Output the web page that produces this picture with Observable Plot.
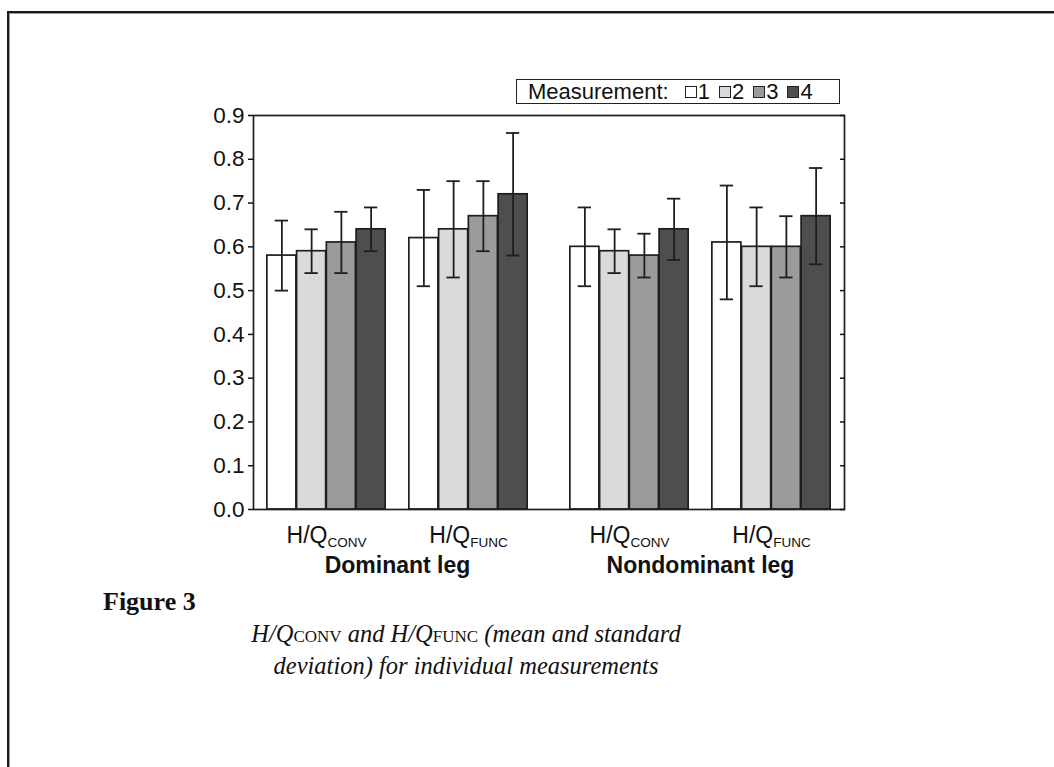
<!DOCTYPE html>
<html>
<head>
<meta charset="utf-8">
<script src="https://cdn.jsdelivr.net/npm/d3@7"></script>
<script src="https://cdn.jsdelivr.net/npm/@observablehq/plot@0.6"></script>
<style>
  html, body { margin: 0; padding: 0; background: #fff; }
  body { width: 1054px; height: 767px; overflow: hidden; position: relative; font-family: "Liberation Sans", Arial, sans-serif; color: #111; }
  #page-frame { position: absolute; left: 7px; top: 11px; width: 1200px; height: 900px; border-top: 2px solid #1a1a1a; border-left: 2px solid #1a1a1a; box-shadow: inset 1px 1px 0 #9a9a9a; }
  #chart { position: absolute; left: 0; top: 0; }
  #legend { position: absolute; left: 516px; top: 79px; width: 324px; height: 25px; box-sizing: border-box; border: 1.5px solid #222; background: #fff;
            font-size: 22px; line-height: 22px; display: flex; align-items: center; padding-left: 11px; white-space: nowrap; }
  #legend .lab { margin-right: 16px; }
  #legend .item { display: inline-flex; align-items: center; margin-right: 9px; }
  #legend .sw { display: inline-block; width: 10px; height: 10px; border: 1px solid #222; margin-right: 1px; }
  #fig { position: absolute; left: 103px; top: 587px; font-family: "Liberation Serif", serif; font-weight: bold; font-size: 26px; }
  #caption { position: absolute; left: 166px; width: 600px; top: 620px; text-align: center; font-family: "Liberation Serif", serif; font-style: italic; font-size: 24.5px; line-height: 28.5px; }
  #caption .sc { font-size: 17px; font-style: normal; }
</style>
</head>
<body>
<div id="page-frame"></div>
<div id="chart"></div>
<div id="legend"></div>
<div id="fig">Figure 3</div>
<div id="caption"><span>H/Q<span class="sc">CONV</span> and H/Q<span class="sc">FUNC</span> (mean and standard</span><br><span>deviation) for individual measurements</span></div>
<script>
// ---- data ----
const legs = ["Dominant leg", "Nondominant leg"];
const types = ["CONV", "FUNC"];
const measurements = ["1", "2", "3", "4"];
const fills = ["#ffffff", "#d9dad9", "#9a9b9a", "#4e4e4e"];
const yTicks = [0, 0.1, 0.2, 0.3, 0.4, 0.5, 0.6, 0.7, 0.8, 0.9];

const domConvMean = [0.58, 0.59, 0.61, 0.64];
const domConvSD   = [0.08, 0.05, 0.07, 0.05];
const domFuncMean = [0.62, 0.64, 0.67, 0.72];
const domFuncSD   = [0.11, 0.11, 0.08, 0.14];
const nonConvMean = [0.60, 0.59, 0.58, 0.64];
const nonConvSD   = [0.09, 0.05, 0.05, 0.07];
const nonFuncMean = [0.61, 0.60, 0.60, 0.67];
const nonFuncSD   = [0.13, 0.09, 0.07, 0.11];

const groups = [
  {leg: legs[0], type: types[0], mean: domConvMean, sd: domConvSD},
  {leg: legs[0], type: types[1], mean: domFuncMean, sd: domFuncSD},
  {leg: legs[1], type: types[0], mean: nonConvMean, sd: nonConvSD},
  {leg: legs[1], type: types[1], mean: nonFuncMean, sd: nonFuncSD}
];
const rows = groups.flatMap(g => measurements.map((m, i) => ({
  leg: g.leg, type: g.type, m, i,
  mean: g.mean[i], lo: g.mean[i] - g.sd[i], hi: g.mean[i] + g.sd[i]
})));

// ---- layout ----
const W = 1054, H = 620, mL = 252, mR = 209, mT = 115, mB = 111;
const fxPI = 0.0493, xPI = 0.1, xPO = 0.0605;
const fxStep = (W - mL - mR) / (2 - fxPI);
const facetW = fxStep * (1 - fxPI);
const xStep = facetW / (2 - xPI + 2 * xPO);
const bw = xStep * (1 - xPI);
const groupW = 119, barW = groupW / 4, off = (bw - groupW) / 2, capHalf = 7;
const ink = "#1e1e1e";

const marks = [];
measurements.forEach((m, i) => {
  const d = rows.filter(r => r.i === i);
  const c = off + (i + 0.5) * barW;
  marks.push(Plot.barY(d, {fx: "leg", x: "type", y: "mean", fill: fills[i], stroke: ink, strokeWidth: 1.7,
    insetLeft: off + i * barW, insetRight: bw - off - (i + 1) * barW}));
  marks.push(Plot.ruleX(d, {fx: "leg", x: "type", y1: "lo", y2: "hi", dx: c - bw / 2, stroke: ink, strokeWidth: 1.8}));
  marks.push(Plot.tickY(d, {fx: "leg", x: "type", y: "hi", stroke: ink, strokeWidth: 1.8, insetLeft: c - capHalf, insetRight: bw - c - capHalf}));
  marks.push(Plot.tickY(d, {fx: "leg", x: "type", y: "lo", stroke: ink, strokeWidth: 1.8, insetLeft: c - capHalf, insetRight: bw - c - capHalf}));
});

const chart = Plot.plot({
  width: W, height: H,
  marginLeft: mL, marginRight: mR, marginTop: mT, marginBottom: mB,
  style: {fontFamily: "'Liberation Sans', Arial, sans-serif", color: "#111", background: "transparent", overflow: "visible"},
  fx: {domain: legs, paddingInner: fxPI, paddingOuter: 0},
  x: {domain: types, paddingInner: xPI, paddingOuter: xPO},
  y: {domain: [0, 0.9]},
  marks: [
    ...marks,
    Plot.frame({facet: "super", stroke: ink, strokeWidth: 1.7}),
    Plot.axisY({anchor: "left", ticks: yTicks, tickFormat: d => d.toFixed(1), tickSize: 5, tickPadding: 4, fontSize: 22.5, label: null, strokeWidth: 1.5}),
    Plot.axisY({anchor: "right", ticks: yTicks, tickFormat: () => "", tickSize: -5, label: null, strokeWidth: 1.5}),
    Plot.axisX({anchor: "bottom", tickSize: 0, tickPadding: 17, fontSize: 23, label: null, tickFormat: t => "H/Q" + t}),
    Plot.axisFx({anchor: "bottom", tickSize: 0, tickPadding: 47, fontSize: 23, fontWeight: "bold", label: null})
  ]
});
document.getElementById("chart").appendChild(chart);

// subscript on the x tick labels
chart.querySelectorAll("text").forEach(t => {
  const s = t.textContent;
  if (s.startsWith("H/Q") && s.length > 3) {
    const sub = s.slice(3);
    while (t.firstChild) t.removeChild(t.firstChild);
    const a = document.createElementNS("http://www.w3.org/2000/svg", "tspan");
    a.textContent = "H/Q";
    const b = document.createElementNS("http://www.w3.org/2000/svg", "tspan");
    b.textContent = sub;
    b.setAttribute("font-size", "13.5");
    b.setAttribute("dy", "4");
    t.appendChild(a); t.appendChild(b);
  }
});

// legend
const lg = document.getElementById("legend");
const lab = document.createElement("span");
lab.className = "lab"; lab.textContent = "Measurement:";
lg.appendChild(lab);
measurements.forEach((m, i) => {
  const it = document.createElement("span"); it.className = "item";
  const sw = document.createElement("span"); sw.className = "sw"; sw.style.background = fills[i];
  const tx = document.createElement("span"); tx.textContent = m;
  it.appendChild(sw); it.appendChild(tx); lg.appendChild(it);
});
</script>
</body>
</html>
